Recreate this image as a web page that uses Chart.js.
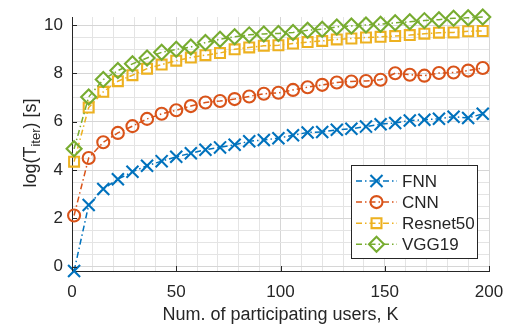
<!DOCTYPE html>
<html>
<head>
<meta charset="utf-8">
<script src="https://cdn.jsdelivr.net/npm/chart.js@4.4.1/dist/chart.umd.min.js"></script>
<style>
  html, body { margin: 0; padding: 0; background: #fff; }
  #wrap { width: 505px; height: 327px; }
</style>
</head>
<body>
<div id="wrap"><canvas id="iterChart" width="505" height="327"></canvas></div>
<script>
// Number of participating users (x values)
const userCount = [1, 8, 15, 22, 29, 36, 43, 50, 57, 64, 71, 78, 85, 92, 99,
  106, 113, 120, 127, 134, 141, 148, 155, 162, 169, 176, 183, 190, 197];

// log(T_iter) per model
const fnnTime = [-0.18, 2.55, 3.22, 3.62, 3.93, 4.18, 4.37, 4.55, 4.70, 4.84, 4.94, 5.05, 5.19, 5.25, 5.32,
  5.44, 5.56, 5.58, 5.67, 5.71, 5.80, 5.90, 5.95, 6.05, 6.08, 6.13, 6.21, 6.16, 6.33];
const cnnTime = [2.12, 4.50, 5.15, 5.54, 5.82, 6.12, 6.33, 6.48, 6.65, 6.80, 6.86, 6.94, 7.05, 7.16, 7.20,
  7.32, 7.43, 7.53, 7.63, 7.67, 7.69, 7.74, 8.01, 7.95, 7.91, 8.02, 8.04, 8.12, 8.23];
const resnetTime = [4.35, 6.59, 7.24, 7.68, 7.93, 8.20, 8.37, 8.53, 8.66, 8.76, 8.85, 9.00, 9.08, 9.15, 9.17,
  9.24, 9.30, 9.35, 9.41, 9.45, 9.49, 9.52, 9.55, 9.59, 9.65, 9.69, 9.70, 9.75, 9.76];
const vggTime = [4.88, 7.03, 7.75, 8.12, 8.40, 8.64, 8.88, 9.00, 9.10, 9.28, 9.42, 9.52, 9.60, 9.64, 9.66,
  9.70, 9.79, 9.83, 9.93, 9.97, 10.01, 10.04, 10.10, 10.14, 10.19, 10.23, 10.29, 10.31, 10.34];

const seriesNames = ["FNN", "CNN", "Resnet50", "VGG19"];

// Axis ticks
const xTickLabels = [0, 50, 100, 150, 200];
const yTickLabels = [0, 2, 4, 6, 8, 10];
const xGrid = [0, 10, 20, 30, 40, 50, 60, 70, 80, 90, 100, 110, 120, 130, 140, 150, 160, 170, 180, 190, 200];
const yGrid = [0, 0.5, 1, 1.5, 2, 2.5, 3, 3.5, 4, 4.5, 5, 5.5, 6, 6.5, 7, 7.5, 8, 8.5, 9, 9.5, 10];

const FONT = '"Liberation Sans", Arial, Helvetica, sans-serif';
const AXIS_COLOR = "#262626";

const toPoints = (ys) => userCount.map((k, i) => ({ x: k, y: ys[i] }));

function makeSet(label, ys, color, style, radius, order) {
  return {
    label,
    data: toPoints(ys),
    borderColor: color,
    backgroundColor: color,
    borderWidth: 1.5,
    borderDash: [6, 3, 1.5, 3],
    pointStyle: style,
    pointRadius: radius,
    pointBorderWidth: 2.1,
    pointBackgroundColor: "rgba(0,0,0,0)",
    pointBorderColor: color,
    tension: 0,
    clip: false,
    order,
  };
}

// Draw tick labels, inward tick marks, axis titles and the legend box
const decorations = {
  id: "decorations",
  afterDraw(chart) {
    const ctx = chart.ctx;
    const xs = chart.scales.x;
    const ys = chart.scales.y;
    const area = chart.chartArea;
    ctx.save();

    // tick marks pointing inward
    ctx.strokeStyle = AXIS_COLOR;
    ctx.lineWidth = 1;
    ctx.beginPath();
    xTickLabels.forEach((v) => {
      const px = Math.round(xs.getPixelForValue(v)) + 0.5;
      ctx.moveTo(px, area.bottom);
      ctx.lineTo(px, area.bottom - 5);
    });
    yTickLabels.forEach((v) => {
      const py = Math.round(ys.getPixelForValue(v)) + 0.5;
      ctx.moveTo(area.left, py);
      ctx.lineTo(area.left + 5, py);
    });
    ctx.stroke();

    // tick labels
    ctx.fillStyle = AXIS_COLOR;
    ctx.font = "17px " + FONT;
    ctx.textAlign = "right";
    ctx.textBaseline = "middle";
    yTickLabels.forEach((v) => ctx.fillText(String(v), area.left - 9, ys.getPixelForValue(v)));
    ctx.textAlign = "center";
    ctx.textBaseline = "middle";
    xTickLabels.forEach((v) => ctx.fillText(String(v), xs.getPixelForValue(v), area.bottom + 21));

    // x title
    ctx.font = "18px " + FONT;
    ctx.fillText("Num. of participating users, K", (area.left + area.right) / 2, 315);

    // y title with subscript
    ctx.save();
    ctx.translate(36, 143);
    ctx.rotate(-Math.PI / 2);
    ctx.textAlign = "left";
    ctx.textBaseline = "alphabetic";
    const big = "18px " + FONT;
    const small = "13px " + FONT;
    ctx.font = big;
    const w1 = ctx.measureText("log(T").width;
    const w3 = ctx.measureText(") [s]").width;
    ctx.font = small;
    const w2 = ctx.measureText("iter").width;
    let x0 = -(w1 + w2 + w3) / 2;
    ctx.font = big;
    ctx.fillText("log(T", x0, 0);
    ctx.font = small;
    ctx.fillText("iter", x0 + w1, 4);
    ctx.font = big;
    ctx.fillText(") [s]", x0 + w1 + w2, 0);
    ctx.restore();

    // legend
    const lx = 351.5, ly = 165.5, lw = 126, lh = 93;
    ctx.fillStyle = "#fff";
    ctx.fillRect(lx, ly, lw, lh);
    ctx.strokeStyle = AXIS_COLOR;
    ctx.lineWidth = 1;
    ctx.strokeRect(lx, ly, lw, lh);
    chart.data.datasets.forEach((ds, i) => {
      const cy = 181 + i * 21.1;
      ctx.save();
      ctx.strokeStyle = ds.borderColor;
      ctx.lineWidth = 1.5;
      ctx.setLineDash(ds.borderDash);
      ctx.beginPath();
      ctx.moveTo(356, cy);
      ctx.lineTo(397, cy);
      ctx.stroke();
      ctx.setLineDash([]);
      ctx.fillStyle = "rgba(0,0,0,0)";
      ctx.lineWidth = ds.pointBorderWidth;
      Chart.helpers.drawPoint(ctx, {
        pointStyle: ds.pointStyle,
        radius: ds.pointRadius,
        borderWidth: ds.pointBorderWidth,
      }, 376.5, cy);
      ctx.restore();
      ctx.fillStyle = AXIS_COLOR;
      ctx.font = "17px " + FONT;
      ctx.textAlign = "left";
      ctx.textBaseline = "middle";
      ctx.fillText(ds.label, 402, cy + 1);
    });

    ctx.restore();
  },
};

const chart = new Chart(document.getElementById("iterChart"), {
  type: "line",
  data: {
    datasets: [
      makeSet(seriesNames[0], fnnTime, "#0072BD", "crossRot", 8.5, 3),
      makeSet(seriesNames[1], cnnTime, "#D95319", "circle", 6, 2),
      makeSet(seriesNames[2], resnetTime, "#EDB120", "rect", 7, 1),
      makeSet(seriesNames[3], vggTime, "#77AC30", "rectRot", 7.5, 0),
    ],
  },
  options: {
    responsive: false,
    animation: false,
    events: [],
    layout: { padding: { left: 72, right: 16, top: 17, bottom: 56 } },
    plugins: { legend: { display: false }, tooltip: { enabled: false } },
    scales: {
      x: {
        type: "linear",
        min: 0,
        max: 200,
        afterBuildTicks: (s) => { s.ticks = xGrid.map((v) => ({ value: v })); },
        ticks: { display: false },
        grid: {
          drawTicks: false,
          color: (c) => (c.tick && c.tick.value % 50 === 0 ? "#d6d6d6" : "#e4e4e4"),
        },
        border: { color: AXIS_COLOR, width: 1 },
      },
      y: {
        type: "linear",
        min: -0.18,
        max: 10.34,
        afterBuildTicks: (s) => { s.ticks = yGrid.map((v) => ({ value: v })); },
        ticks: { display: false },
        grid: {
          drawTicks: false,
          color: (c) => (c.tick && c.tick.value % 2 === 0 ? "#d6d6d6" : "#e4e4e4"),
        },
        border: { color: AXIS_COLOR, width: 1 },
      },
    },
  },
  plugins: [decorations],
});
</script>
</body>
</html>
